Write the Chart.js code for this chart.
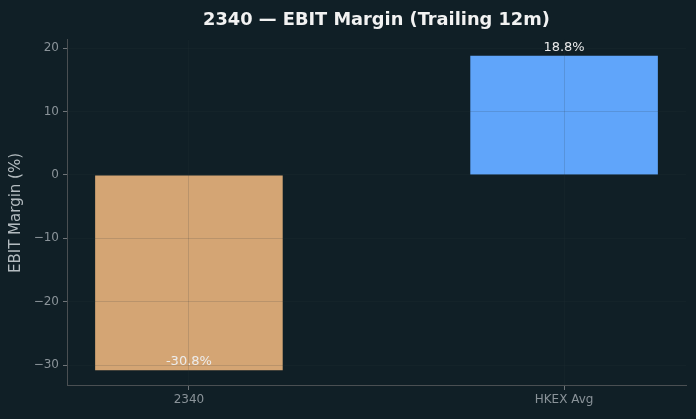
<!DOCTYPE html>
<html>
<head>
<meta charset="utf-8">
<script src="https://cdn.jsdelivr.net/npm/chart.js@4.4.1/dist/chart.umd.min.js"></script>
<style>
    html, body { margin: 0; padding: 0; background: #101f26; font-family: "DejaVu Sans"; }
    #wrap { width: 696px; height: 419px; }
</style>
</head>
<body>
<div id="wrap"><canvas id="chart"></canvas></div>
<script>
// data
var categories = ['2340', 'HKEX Avg'];
var margins = [-30.8, 18.8];
var barColors = ['#d4a574', '#60a5fa'];
var yTicks = [20, 10, 0, -10, -20, -30];

var FONT = '"DejaVu Sans", Verdana, sans-serif';
Chart.defaults.font.family = FONT;

function fmtMinus(v) {
    return String(v).replace('-', '\u2212');
}

// value labels above the bar tops / inside the negative bar
var valueLabels = {
    id: 'valueLabels',
    afterDatasetsDraw: function(chart) {
        var ctx = chart.ctx;
        var meta = chart.getDatasetMeta(0);
        ctx.save();
        ctx.font = '13px ' + FONT;
        ctx.fillStyle = '#ececec';
        ctx.textAlign = 'center';
        ctx.textBaseline = 'bottom';
        meta.data.forEach(function(bar, i) {
            var txt = margins[i].toFixed(1) + '%';
            ctx.fillText(txt, bar.x, bar.y - 2);
        });
        ctx.restore();
    }
};

var points = categories.map(function(c, i) { return {x: i, y: margins[i]}; });

var gridCol = 'rgba(45,55,60,0.16)';

new Chart(document.getElementById('chart'), {
    type: 'bar',
    data: {
        datasets: [{
            data: points,
            backgroundColor: barColors,
            borderWidth: 0,
            barPercentage: 0.5,
            categoryPercentage: 1.0
        }]
    },
    options: {
        responsive: true,
        maintainAspectRatio: false,
        animation: false,
        layout: { padding: { left: 0, right: 10, top: 0, bottom: 0 } },
        plugins: {
            legend: { display: false },
            tooltip: { enabled: false },
            title: {
                display: true,
                fullSize: false,
                text: '2340 \u2014 EBIT Margin (Trailing 12m)',
                color: '#f2f2f2',
                font: { family: FONT, size: 17.8, weight: 'bold', lineHeight: 1.2 },
                padding: { top: 10, bottom: 8.6 }
            }
        },
        scales: {
            x: {
                type: 'linear',
                min: -0.325,
                max: 1.325,
                offset: false,
                afterBuildTicks: function(scale) {
                    scale.ticks = categories.map(function(c, i) { return {value: i}; });
                },
                afterFit: function(scale) { scale.height = 33; },
                ticks: {
                    color: '#8a9399',
                    font: { family: FONT, size: 12 },
                    padding: 3,
                    maxRotation: 0,
                    callback: function(v) { return categories[v]; }
                },
                grid: {
                    z: 1,
                    offset: false,
                    color: gridCol,
                    tickColor: '#6f7579',
                    tickLength: 4,
                    lineWidth: 1
                },
                border: { color: '#4a4f52', width: 1, z: 1 }
            },
            y: {
                min: -33.28,
                max: 21.28,
                afterBuildTicks: function(scale) {
                    scale.ticks = yTicks.map(function(t) { return {value: t}; });
                },
                afterFit: function(scale) { scale.width = 67; },
                ticks: {
                    color: '#8a9399',
                    font: { family: FONT, size: 12 },
                    padding: 4,
                    callback: function(v) { return fmtMinus(v); }
                },
                grid: {
                    z: 1,
                    color: gridCol,
                    tickColor: '#6f7579',
                    tickLength: 4,
                    lineWidth: 1
                },
                border: { color: '#4a4f52', width: 1, z: 1 },
                title: {
                    display: true,
                    text: 'EBIT Margin (%)',
                    color: '#b4bcc0',
                    font: { family: FONT, size: 15 },
                    padding: { top: 7, bottom: 0 }
                }
            }
        }
    },
    plugins: [valueLabels]
});
</script>
</body>
</html>
